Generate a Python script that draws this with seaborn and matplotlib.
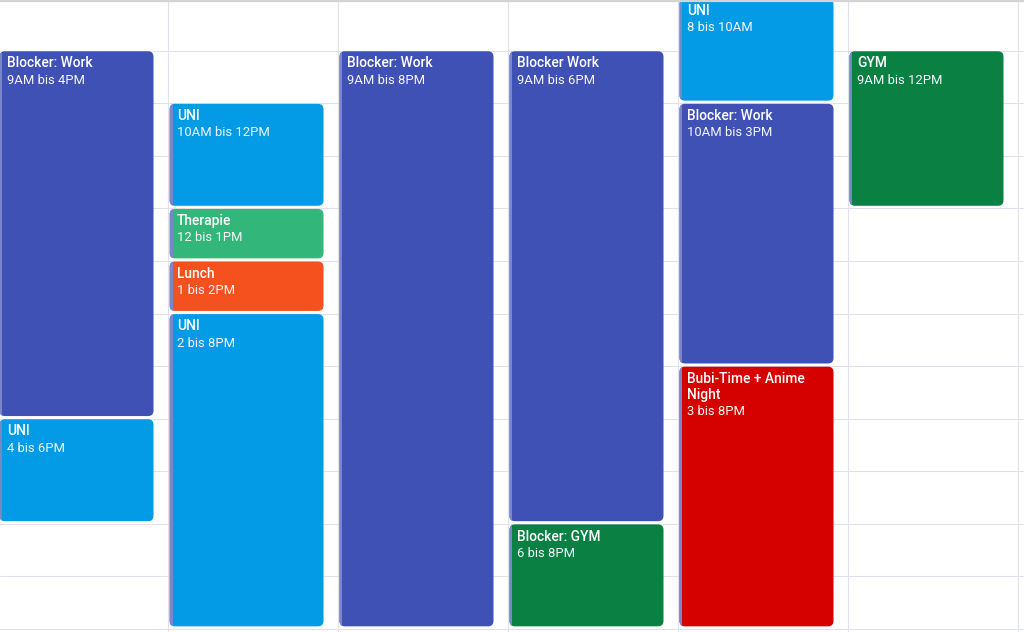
import textwrap
import numpy as np
import pandas as pd
import matplotlib
matplotlib.use("Agg")
import matplotlib.pyplot as plt
from matplotlib.patches import FancyBboxPatch, Rectangle
import seaborn as sns

# ---------------- data ----------------
days = [0, 0, 1, 1, 1, 1, 2, 3, 3, 4, 4, 4, 5]
titles = ["Blocker: Work", "UNI", "UNI", "Therapie", "Lunch", "UNI",
          "Blocker: Work", "Blocker Work", "Blocker: GYM", "UNI",
          "Blocker: Work", "Bubi-Time + Anime Night", "GYM"]
times = ["9AM bis 4PM", "4 bis 6PM", "10AM bis 12PM", "12 bis 1PM",
         "1 bis 2PM", "2 bis 8PM", "9AM bis 8PM", "9AM bis 6PM",
         "6 bis 8PM", "8 bis 10AM", "10AM bis 3PM", "3 bis 8PM",
         "9AM bis 12PM"]
starts = [9, 16, 10, 12, 13, 14, 9, 9, 18, 8, 10, 15, 9]
ends = [16, 18, 12, 13, 14, 20, 20, 18, 20, 10, 15, 20, 12]
kinds = ["work", "uni", "uni", "therapy", "lunch", "uni", "work", "work",
         "gym", "uni", "work", "fun", "gym"]
palette = {"work": "#3F51B5", "uni": "#039BE5", "therapy": "#33B679",
           "lunch": "#F4511E", "gym": "#0B8043", "fun": "#D50000"}
n_columns = 7
hours = list(range(8, 21))

df = pd.DataFrame({"day": days, "title": titles, "time": times,
                   "start": starts, "end": ends, "kind": kinds})

# ---------------- style ----------------
sns.set_theme(style="white")
plt.rcParams["font.family"] = ["Roboto", "DejaVu Sans"]

W, H = 1024, 632
fig = plt.figure(figsize=(W / 100, H / 100), dpi=100)
ax = fig.add_axes([0, 0, 1, 1])

col_px = 170.0
hour_px = 52.57
x0_px = -1.7      # pixel position of first column edge
y0_px = -1.9      # pixel position of 8AM
ax.set_xlim((0 - x0_px) / col_px, (W - x0_px) / col_px)
ax.set_ylim(8 + (H - y0_px) / hour_px, 8 + (0 - y0_px) / hour_px)
ax.axis("off")

px_x = 1 / col_px
px_y = 1 / hour_px

grid_c = "#dfe2ea"
for h in hours:
    ax.axhline(h, color=grid_c, lw=0.8, zorder=0)
for c in range(n_columns + 1):
    ax.axvline(c, color=grid_c, lw=0.8, zorder=0)
ax.plot([0, 1], [1 - 1.2 / H] * 2, transform=ax.transAxes,
        color="#d3d3d3", lw=1.6, zorder=5, clip_on=False)

aspect = px_y / px_x
stripe_c = "#7986CB"
for _, r in df.iterrows():
    left = r["day"] + 1.2 * px_x
    width = 154 * px_x
    top = r["start"] + 0.6 * px_y
    height = (r["end"] - r["start"]) - 3.2 * px_y
    box = FancyBboxPatch((left, top), width, height,
                         boxstyle=f"round,pad=0,rounding_size={5.5 * px_x}",
                         mutation_aspect=aspect,
                         facecolor=palette[r["kind"]], edgecolor="none",
                         zorder=3)
    ax.add_patch(box)
    stripe = Rectangle((left, top), 3 * px_x, height,
                       facecolor=stripe_c, edgecolor="none", zorder=4)
    ax.add_patch(stripe)
    stripe.set_clip_path(box)

    tx = r["day"] + 8.8 * px_x
    lines = textwrap.wrap(r["title"], 18)
    base = r["start"] + 16.7 * px_y
    for i, line in enumerate(lines):
        ax.text(tx, base + i * 16.3 * px_y, line, color="white",
                fontsize=9.9, fontweight="medium", va="baseline",
                ha="left", zorder=6)
    ax.text(tx, base + len(lines) * 16.3 * px_y, r["time"], color="#f4f6fb",
            fontsize=9.4, va="baseline", ha="left", zorder=6)

fig.savefig("out.png", dpi=100)
